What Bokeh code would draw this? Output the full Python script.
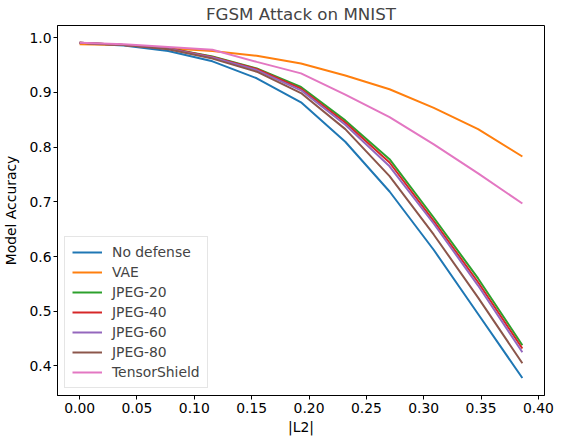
from bokeh.plotting import figure
from bokeh.models import Range1d, FixedTicker, NumeralTickFormatter, Legend, LegendItem
from bokeh.embed import file_html
from bokeh.resources import INLINE

l2 = [0.0, 0.0386, 0.0772, 0.1158, 0.1544, 0.193, 0.2316, 0.2702, 0.3088, 0.3474, 0.386]
no_defense = [0.990, 0.986, 0.976, 0.957, 0.926, 0.882, 0.810, 0.719, 0.612, 0.495, 0.378]
vae = [0.988, 0.987, 0.981, 0.976, 0.967, 0.953, 0.931, 0.906, 0.872, 0.833, 0.783]
jpeg20 = [0.991, 0.987, 0.981, 0.966, 0.944, 0.910, 0.849, 0.778, 0.671, 0.560, 0.438]
jpeg40 = [0.991, 0.987, 0.981, 0.965, 0.943, 0.907, 0.845, 0.772, 0.665, 0.553, 0.432]
jpeg60 = [0.991, 0.987, 0.980, 0.964, 0.941, 0.904, 0.841, 0.765, 0.660, 0.547, 0.425]
jpeg80 = [0.991, 0.987, 0.979, 0.962, 0.938, 0.899, 0.833, 0.747, 0.640, 0.525, 0.405]
tensorshield = [0.991, 0.988, 0.983, 0.978, 0.956, 0.935, 0.896, 0.855, 0.805, 0.752, 0.697]

series_names = ["No defense", "VAE", "JPEG-20", "JPEG-40", "JPEG-60", "JPEG-80", "TensorShield"]
series_values = [no_defense, vae, jpeg20, jpeg40, jpeg60, jpeg80, tensorshield]
colors = ["#1f77b4", "#ff7f0e", "#2ca02c", "#d62728", "#9467bd", "#8c564b", "#e377c2"]

x_ticks = [0.0, 0.05, 0.10, 0.15, 0.20, 0.25, 0.30, 0.35, 0.40]
y_ticks = [0.4, 0.5, 0.6, 0.7, 0.8, 0.9, 1.0]

FONT = "DejaVu Sans"

p = figure(
    output_backend="svg", toolbar_location=None,
    frame_width=487, frame_height=370,
    min_border_left=54, min_border_right=10, min_border_top=0, min_border_bottom=0,
    x_range=Range1d(-0.0193, 0.4053), y_range=Range1d(0.346, 1.0225),
    title="FGSM Attack on MNIST",
)
p.title.align = "center"
p.title.text_font = FONT
p.title.text_font_size = "16.7px"
p.title.text_font_style = "normal"
p.title.standoff = 3

p.xgrid.visible = False
p.ygrid.visible = False
p.outline_line_color = "black"
p.outline_line_width = 1

items = []
for name, vals, c in zip(series_names, series_values, colors):
    r = p.line(l2, vals, line_color=c, line_width=2)
    items.append(LegendItem(label=name, renderers=[r]))

for ax in (p.xaxis[0], p.yaxis[0]):
    ax.major_tick_in = 0
    ax.major_tick_out = 4
    ax.minor_tick_line_color = None
    ax.axis_line_color = "black"
    ax.major_tick_line_color = "black"
    ax.major_label_text_font = FONT
    ax.major_label_text_font_size = "13.9px"
    ax.major_label_text_color = "black"
    ax.axis_label_text_font = FONT
    ax.axis_label_text_font_size = "13.9px"
    ax.axis_label_text_font_style = "normal"
    ax.axis_label_text_color = "black"

p.xaxis[0].major_label_standoff = 3
p.xaxis[0].axis_label_standoff = 3
p.yaxis[0].major_label_standoff = 2
p.yaxis[0].axis_label_standoff = 7

p.xaxis[0].ticker = FixedTicker(ticks=x_ticks)
p.xaxis[0].formatter = NumeralTickFormatter(format="0.00")
p.yaxis[0].ticker = FixedTicker(ticks=y_ticks)
p.yaxis[0].formatter = NumeralTickFormatter(format="0.0")
p.xaxis[0].axis_label = "|L2|"
p.yaxis[0].axis_label = "Model Accuracy"

legend = Legend(items=items, location="bottom_left")
legend.label_text_font = FONT
legend.label_text_font_size = "13.9px"
legend.glyph_width = 30
legend.glyph_height = 16
legend.label_height = 16
legend.label_standoff = 10
legend.spacing = 4
legend.padding = 7
legend.margin = 7
legend.border_line_color = "#cccccc"
legend.border_line_width = 1
legend.background_fill_alpha = 0.8
p.add_layout(legend)

open("out.html", "w").write(file_html(p, INLINE))
